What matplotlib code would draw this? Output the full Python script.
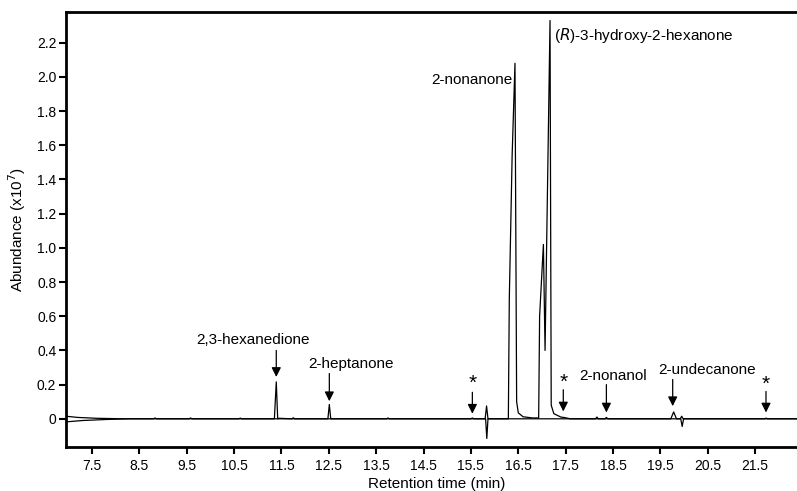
import matplotlib.pyplot as plt

plt.rcParams['font.family'] = ['Liberation Sans', 'DejaVu Sans']

# Sample trace (retention time in min, abundance x10^7)
time_a = [6.95, 7.2, 7.6, 8.2, 8.8, 8.83, 8.86, 9.55, 9.58, 9.61, 10.6, 10.63, 10.66,
          11.35, 11.39, 11.42, 11.45, 11.72, 11.75, 11.78,
          12.48, 12.51, 12.54, 13.72, 13.75, 13.78, 15.5, 15.53, 15.56,
          15.80, 15.83, 15.86,
          16.29, 16.31, 16.37, 16.43, 16.465, 16.5, 16.6, 16.8, 16.93,
          16.95, 17.03, 17.065, 17.17, 17.195, 17.25, 17.4, 17.46, 17.6,
          18.13, 18.16, 18.19, 18.33, 18.36, 18.39,
          19.72, 19.78, 19.84, 19.92, 19.95, 19.98,
          21.7, 21.73, 21.76, 22.5]
abund_a = [0.015, 0.008, 0.003, 0.0, 0.0, 0.005, 0.0, 0.0, 0.005, 0.0, 0.0, 0.004, 0.0,
           0.0, 0.216, 0.0, 0.003, 0.0, 0.006, 0.0,
           0.0, 0.084, 0.0, 0.0, 0.005, 0.0, 0.0, 0.005, 0.0,
           0.0, 0.075, 0.0,
           0.0, 0.7, 1.54, 2.08, 0.1, 0.035, 0.012, 0.005, 0.005,
           0.6, 1.02, 0.40, 2.33, 0.08, 0.03, 0.01, 0.008, 0.0,
           0.0, 0.01, 0.0, 0.0, 0.008, 0.0,
           0.0, 0.04, 0.0, 0.0, 0.015, 0.0,
           0.0, 0.004, 0.0, 0.0]

# Second overlaid trace
time_b = [6.95, 7.3, 7.8, 8.3, 15.81, 15.835, 15.86, 19.93, 19.96, 19.99, 22.5]
abund_b = [-0.018, -0.01, -0.004, 0.0, 0.0, -0.115, 0.0, 0.0, -0.045, 0.0, 0.0]

# Arrow-marked compounds
marked_names = ['2,3-hexanedione', '2-heptanone', '*', '*', '2-nonanol', '2-undecanone', '*']
marked_times = [11.39, 12.51, 15.53, 17.45, 18.36, 19.76, 21.73]

x_ticks = [7.5, 8.5, 9.5, 10.5, 11.5, 12.5, 13.5, 14.5, 15.5, 16.5, 17.5, 18.5, 19.5, 20.5, 21.5]
y_ticks = [0, 0.2, 0.4, 0.6, 0.8, 1.0, 1.2, 1.4, 1.6, 1.8, 2.0, 2.2]
y_ticklabels = ['0', '0.2', '0.4', '0.6', '0.8', '1.0', '1.2', '1.4', '1.6', '1.8', '2.0', '2.2']

# annotation layout (arrow tail, arrow tip, label x, label y)
arrow_tail = [0.40, 0.265, 0.155, 0.17, 0.20, 0.23, 0.16]
arrow_tip = [0.245, 0.103, 0.03, 0.043, 0.037, 0.074, 0.037]
label_x = [10.9, 12.97, 15.53, 17.45, 18.5, 20.48, 21.73]
label_y = [0.46, 0.318, 0.205, 0.215, 0.253, 0.284, 0.20]

fig = plt.figure(figsize=(7.97, 4.91), dpi=100)
ax = fig.add_axes([0.0828, 0.0896, 0.93, 0.886])

ax.plot(time_b, abund_b, color='black', linewidth=0.9)
ax.plot(time_a, abund_a, color='black', linewidth=0.9)

ax.set_xlim(6.95, 22.6)
ax.set_ylim(-0.165, 2.38)

ax.set_xticks(x_ticks)
ax.set_xticklabels([str(t) for t in x_ticks])
ax.set_yticks(y_ticks)
ax.set_yticklabels(y_ticklabels)
ax.tick_params(direction='out', length=5, width=1.5, labelsize=10, colors='black')
ax.tick_params(axis='y', pad=2)

for side in ['left', 'bottom', 'top']:
    ax.spines[side].set_linewidth(2)
ax.spines['right'].set_visible(False)

ax.set_xlabel('Retention time (min)', fontsize=11, labelpad=3)
ax.set_ylabel('Abundance (x10$^7$)', fontsize=11, labelpad=6)

# arrows + labels
for i, name in enumerate(marked_names):
    t = marked_times[i]
    ax.annotate('', xy=(t, arrow_tip[i]), xytext=(t, arrow_tail[i]),
                arrowprops=dict(arrowstyle='-|>', color='black', lw=0.9,
                                mutation_scale=14, shrinkA=0, shrinkB=0))
    if name == '*':
        ax.text(label_x[i], label_y[i], name, fontsize=15, ha='center', va='center')
    else:
        ax.text(label_x[i], label_y[i], name, fontsize=11, ha='center', va='center')

ax.text(16.37, 1.98, '2-nonanone', fontsize=11, ha='right', va='center')
ax.text(17.25, 2.24, '($\\it{R}$)-3-hydroxy-2-hexanone', fontsize=11, ha='left', va='center')

fig.savefig('out.png', dpi=100)
